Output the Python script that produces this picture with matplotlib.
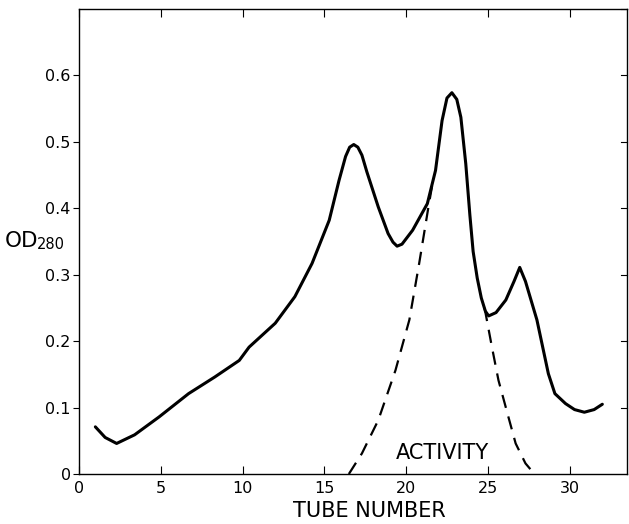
import matplotlib
matplotlib.use("Agg")
import matplotlib.pyplot as plt

# OD280 elution profile (solid)
tube = [1.0, 1.6, 2.3, 3.4, 4.9, 6.7, 8.3, 9.8, 10.4, 12.0, 13.2, 14.25, 15.3,
        15.9, 16.3, 16.55, 16.8, 17.05, 17.3, 17.6, 18.3, 18.9, 19.2, 19.45,
        19.75, 20.4, 21.3, 21.8, 22.2, 22.5, 22.8, 23.1, 23.35, 23.65, 23.9,
        24.1, 24.35, 24.6, 24.85, 25.05, 25.5, 26.1, 26.6, 26.95, 27.3, 28.0,
        28.7, 29.1, 29.75, 30.3, 30.9, 31.5, 32.0]
od280 = [0.071, 0.055, 0.046, 0.059, 0.086, 0.121, 0.146, 0.171, 0.191,
         0.227, 0.267, 0.317, 0.382, 0.442, 0.478, 0.492, 0.496, 0.492,
         0.480, 0.455, 0.402, 0.362, 0.349, 0.343, 0.346, 0.367, 0.407,
         0.457, 0.532, 0.566, 0.574, 0.564, 0.537, 0.467, 0.39, 0.335,
         0.295, 0.265, 0.245, 0.238, 0.243, 0.262, 0.29, 0.311, 0.29,
         0.232, 0.151, 0.121, 0.106, 0.097, 0.093, 0.097, 0.105]

# activity (dashed), rising and falling branches
act_x1 = [16.5, 17.3, 18.3, 19.35, 20.2, 20.8, 21.4, 21.6]
act_y1 = [0.0, 0.031, 0.081, 0.156, 0.232, 0.317, 0.407, 0.435]
act_x2 = [24.8, 25.25, 25.65, 26.2, 26.7, 27.3, 27.85]
act_y2 = [0.25, 0.191, 0.141, 0.091, 0.046, 0.016, 0.0]

xticks = [0, 5, 10, 15, 20, 25, 30]
yticks = [0, 0.1, 0.2, 0.3, 0.4, 0.5, 0.6]
ylabels = ['0', '0.1', '0.2', '0.3', '0.4', '0.5', '0.6']

fig = plt.figure(figsize=(6.29, 5.24), dpi=100)
ax = fig.add_axes([0.1256, 0.0954, 0.871, 0.8874])

ax.plot(tube, od280, color='black', lw=2.2, solid_joinstyle='round', solid_capstyle='round')
ax.plot(act_x1, act_y1, color='black', lw=1.6, dashes=(6, 4))
ax.plot(act_x2, act_y2, color='black', lw=1.6, dashes=(6, 4))

ax.set_xlim(0, 33.5)
ax.set_ylim(0, 0.7)
ax.set_xticks(xticks)
ax.set_xticklabels([str(t) for t in xticks])
ax.set_yticks(yticks)
ax.set_yticklabels(ylabels)

ax.tick_params(axis='x', direction='in', length=6, top=True, labelsize=11.5, pad=5)
ax.tick_params(axis='y', direction='out', length=4, labelsize=11.5, pad=2)
ax.yaxis.set_ticks_position('left')
# inner ticks on the right side
for t in yticks[1:] + [0.7]:
    ax.plot([33.5 - 0.35, 33.5], [t, t], color='black', lw=0.8, clip_on=False)

for s in ax.spines.values():
    s.set_linewidth(1.0)

# axis labels placed by hand to match the original lettering
fig.text(0.588, 0.0134, 'TUBE NUMBER', fontsize=15, ha='center', va='baseline')
ax.text(22.25, 0.0226, 'ACTIVITY', fontsize=15, ha='center', va='baseline')
fig.text(0.008, 0.5286, 'OD', fontsize=15.5, ha='left', va='baseline')
fig.text(0.0588, 0.5248, '280', fontsize=10.5, ha='left', va='baseline')

fig.savefig('out.png', dpi=100)
